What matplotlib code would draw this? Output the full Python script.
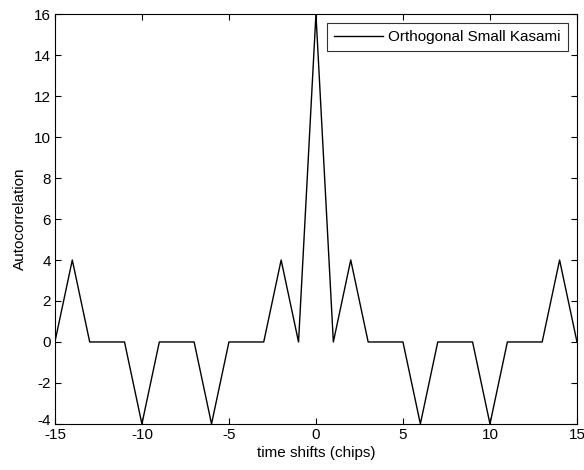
import matplotlib
matplotlib.use("Agg")
import matplotlib.pyplot as plt
import matplotlib.transforms as mtransforms

shifts = list(range(-15, 16))
autocorr = [0, 4, 0, 0, 0, -4, 0, 0, 0, -4, 0, 0, 0, 4, 0,
            16,
            0, 4, 0, 0, 0, -4, 0, 0, 0, -4, 0, 0, 0, 4, 0]
xticks = [-15, -10, -5, 0, 5, 10, 15]
yticks = [-4, -2, 0, 2, 4, 6, 8, 10, 12, 14, 16]

plt.rcParams['font.family'] = ['Liberation Sans', 'DejaVu Sans']
plt.rcParams['axes.unicode_minus'] = False
fig = plt.figure(figsize=(5.84, 4.70), dpi=100)
ax = fig.add_axes([0.094, 0.098, 0.894, 0.872])
ax.plot(shifts, autocorr, color='black', linewidth=1.0, label='Orthogonal Small Kasami')
ax.set_xlim(-15, 15)
ax.set_ylim(-4, 16)
ax.set_xticks(xticks)
ax.set_yticks(yticks)
ax.tick_params(direction='in', top=True, right=True, labelsize=11, length=4,
               width=0.8, pad=3)
for s in ax.spines.values():
    s.set_linewidth(0.8)
ax.set_xlabel('time shifts (chips)', fontsize=11, labelpad=3)
ax.set_ylabel('Autocorrelation', fontsize=11, labelpad=5)
leg = ax.legend(loc='upper right', fontsize=11, frameon=True, fancybox=False,
                edgecolor='black', borderaxespad=0.6, handlelength=3.2,
                handletextpad=0.35, borderpad=0.45)
leg.get_frame().set_linewidth(0.8)

# lift the lowest y tick label slightly, as in the reference
fig.canvas.draw()
lbl = ax.get_yticklabels()[0]
lbl.set_transform(lbl.get_transform() + mtransforms.ScaledTranslation(0, 3 / 72, fig.dpi_scale_trans))
fig.savefig('out.png', dpi=100)
